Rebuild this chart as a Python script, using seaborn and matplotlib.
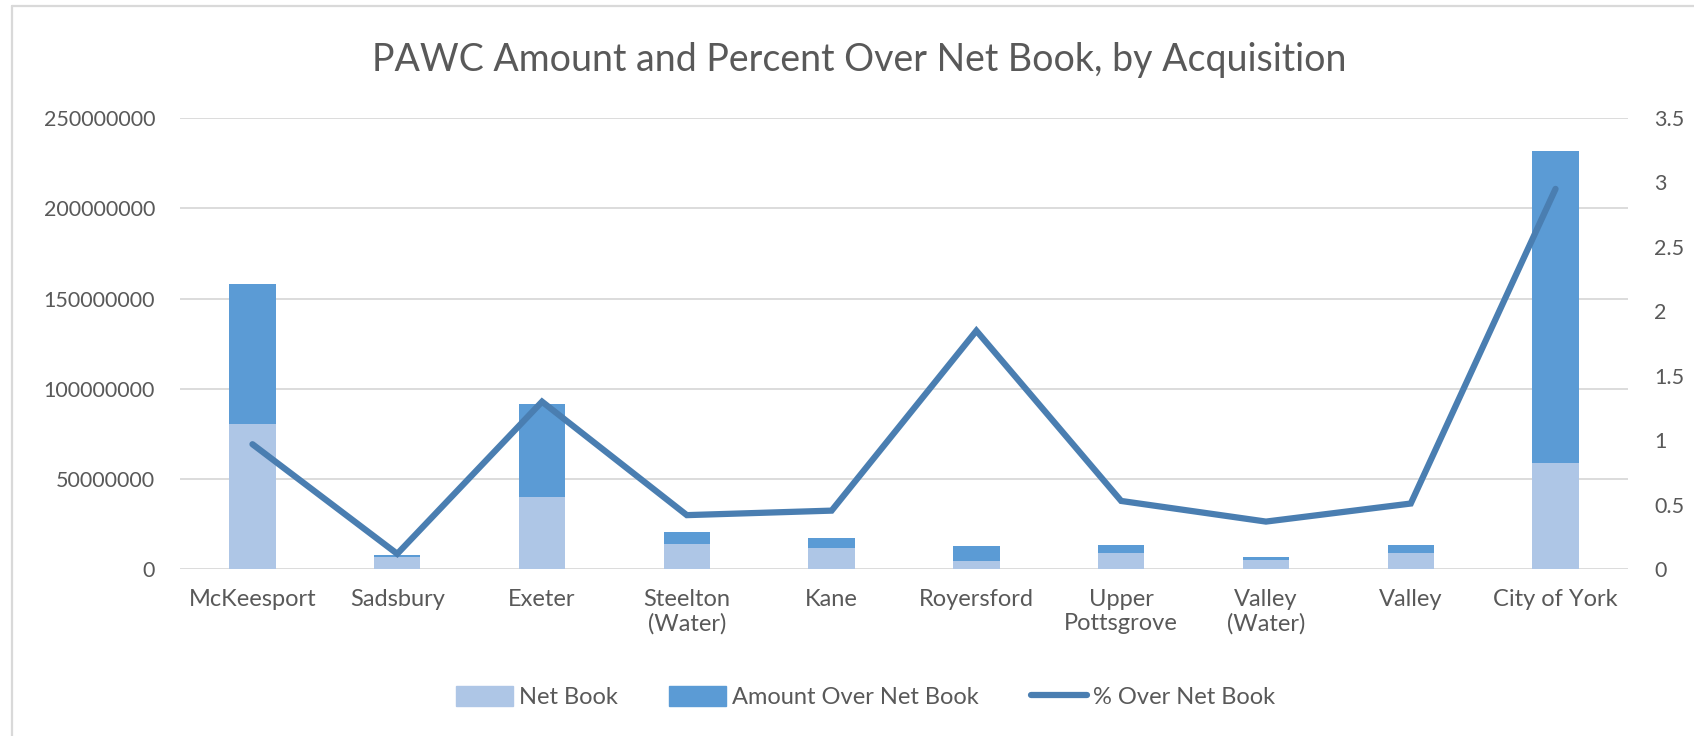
import matplotlib
matplotlib.use("Agg")
import matplotlib.pyplot as plt
import seaborn as sns
import numpy as np
import pandas as pd
from matplotlib.lines import Line2D
from matplotlib.patches import Patch
from matplotlib.ticker import FuncFormatter

# values (dollars in millions, pct as a ratio)
categories = ["McKeesport", "Sadsbury", "Exeter", "Steelton\n(Water)", "Kane",
              "Royersford", "Upper\nPottsgrove", "Valley\n(Water)", "Valley", "City of York"]
net_book = [80.4, 6.9, 40.1, 14.2, 11.8, 4.4, 8.8, 5.1, 8.9, 58.8]
over_net = [77.8, 0.8, 51.4, 6.5, 5.7, 8.3, 4.7, 1.9, 4.6, 172.7]
pct_over = [0.97, 0.12, 1.30, 0.42, 0.455, 1.85, 0.53, 0.37, 0.51, 2.95]

light = "#AEC6E6"
dark = "#5B9BD5"
line_col = "#4A7EB1"
grid_col = "#D9D9D9"
txt_col = "#595959"

sns.set_style("white")
plt.rcParams['font.family'] = ['Lato', 'DejaVu Sans']

df = pd.DataFrame({"cat": categories,
                   "net": np.array(net_book) * 1e6,
                   "total": (np.array(net_book) + np.array(over_net)) * 1e6,
                   "pct": pct_over})

fig = plt.figure(figsize=(16.94, 7.36), dpi=100)
ax = fig.add_axes([0.1063, 0.2265, 0.961 - 0.1063, 0.8397 - 0.2265])

# stacked bars: draw totals in dark, then net book on top in light
sns.barplot(data=df, x="cat", y="total", color=dark, width=0.32, saturation=1,
            linewidth=0, ax=ax)
sns.barplot(data=df, x="cat", y="net", color=light, width=0.32, saturation=1,
            linewidth=0, ax=ax)

ax.set_ylim(0, 250e6)
ax.set_yticks(np.arange(0, 250e6 + 1, 50e6))
ax.yaxis.set_major_formatter(FuncFormatter(lambda v, p: "%d" % v))
ax.set_xlim(-0.5, len(categories) - 0.5)
ax.grid(axis="y", color=grid_col, linewidth=1.3)
ax.set_axisbelow(True)
for s in ax.spines.values():
    s.set_visible(False)
ax.set_xlabel("")
ax.set_ylabel("")
ax.tick_params(axis="x", length=0, labelsize=17, colors=txt_col, pad=14)
ax.tick_params(axis="y", length=0, labelsize=15.5, colors=txt_col, pad=18)

# secondary axis for the percent line
ax2 = ax.twinx()
sns.lineplot(x=np.arange(len(categories)), y=df["pct"], color=line_col,
             linewidth=4.5, ax=ax2, solid_capstyle="round", solid_joinstyle="miter")
ax2.set_ylim(0, 3.5)
ax2.set_yticks(np.arange(0, 3.51, 0.5))
ax2.yaxis.set_major_formatter(FuncFormatter(lambda v, p: "%g" % v))
ax2.set_ylabel("")
for s in ax2.spines.values():
    s.set_visible(False)
ax2.tick_params(axis="y", length=0, labelsize=15.5, colors=txt_col, pad=19)

fig.text(0.507, 0.918, "PAWC Amount and Percent Over Net Book, by Acquisition",
         ha="center", va="center", fontsize=27, color=txt_col)

handles = [Patch(facecolor=light, edgecolor=light),
           Patch(facecolor=dark, edgecolor=dark),
           Line2D([0], [0], color=line_col, linewidth=4.5, solid_capstyle="round")]
fig.legend(handles, ["Net Book", "Amount Over Net Book", "% Over Net Book"],
           loc="center", bbox_to_anchor=(0.511, 0.053), ncol=3, frameon=False,
           fontsize=17, labelcolor=txt_col, handlelength=2.4, handleheight=0.9,
           handletextpad=0.25, columnspacing=2.2)

# chart-area border (left and top edges visible in the crop)
fig.add_artist(Line2D([0.0071, 0.0071], [0, 0.992], color=grid_col, linewidth=1.6,
                      transform=fig.transFigure))
fig.add_artist(Line2D([0.0071, 1.0], [0.992, 0.992], color=grid_col, linewidth=1.6,
                      transform=fig.transFigure))

fig.savefig("out.png", dpi=100)
